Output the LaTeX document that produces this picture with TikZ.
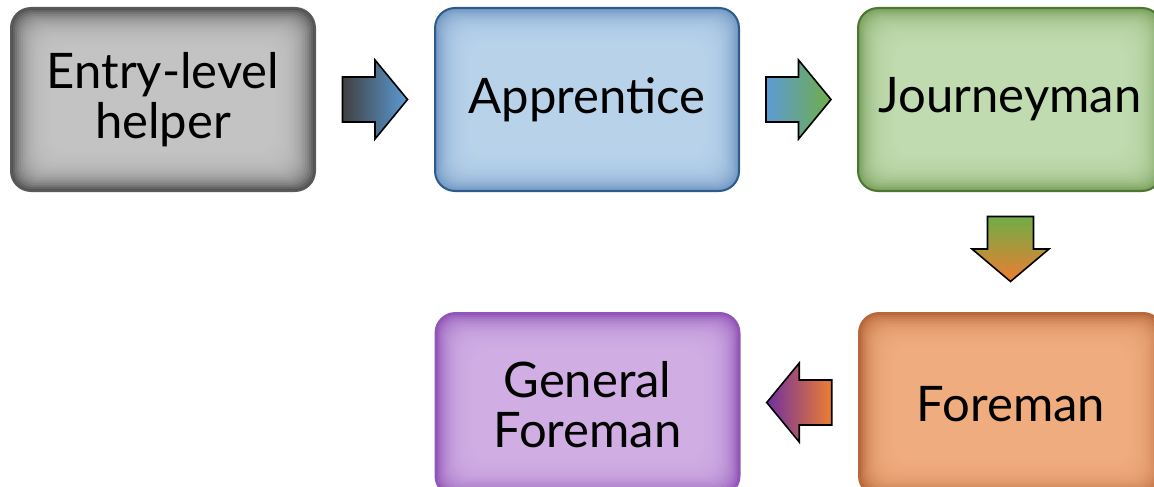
\documentclass[tikz,border=0pt]{standalone}
\usepackage{fontspec}
\setmainfont{Lato}
\usetikzlibrary{calc}

\definecolor{graymid}{HTML}{C8C8C8}
\definecolor{grayedge}{HTML}{505050}
\definecolor{grayline}{HTML}{5A5A5A}
\definecolor{bluemid}{HTML}{BDD7EE}
\definecolor{blueedge}{HTML}{6F96C2}
\definecolor{blueline}{HTML}{2E5C8A}
\definecolor{greenmid}{HTML}{C5E0B4}
\definecolor{greenedge}{HTML}{789E5A}
\definecolor{greenline}{HTML}{4E7632}
\definecolor{orangemid}{HTML}{F4B183}
\definecolor{orangeedge}{HTML}{B8683A}
\definecolor{purplemid}{HTML}{D5B3E8}
\definecolor{purpleedge}{HTML}{9256B8}
\definecolor{arrgray}{HTML}{404040}
\definecolor{arrblue}{HTML}{5B9BD5}
\definecolor{arrgreen}{HTML}{70AD47}
\definecolor{arrorange}{HTML}{ED7D31}
\definecolor{arrpurple}{HTML}{7030A0}

\newcommand{\stagefont}{\fontsize{49}{50}\selectfont}

\tikzset{
  stagebox/.style n args={3}{rounded corners=20pt, minimum width=304pt, minimum height=183pt,
    inner sep=0pt, align=center, font=\stagefont, fill=#2, draw=#3, line width=2pt,
    path picture={
      \foreach \k in {1,...,20}
        \fill[#1, fill opacity=0.17, rounded corners=18pt]
          ($(path picture bounding box.south west)+(\k*2pt,\k*2pt)$) rectangle
          ($(path picture bounding box.north east)-(\k*2pt,\k*2pt)$);
    }},
  blockarrow/.style={draw=black, line width=1.6pt, line join=miter}
}

\begin{document}
\begin{tikzpicture}[x=1pt, y=-1pt]
\useasboundingbox (0, 0) rectangle (1154, 487); % page size

% stages
\node[stagebox={graymid}{grayedge}{grayline}] (entry) at (163, 99.5) {Entry-level\\helper};
\node[stagebox={bluemid}{blueedge}{blueline}] (appr) at (587, 99.5) {Apprentice};
\node[stagebox={greenmid}{greenedge}{greenline}] (journey) at (1010, 99.5) {Journeyman};
\node[stagebox={orangemid}{orangeedge}{orangeedge}] (fore) at (1011, 404.5) {Foreman};
\node[stagebox={purplemid}{purpleedge}{purpleedge}] (general) at (587.5, 404.5) {General\\Foreman};

% arrows between stages
\coordinate (a1) at ($(entry.east)!0.5!(appr.west)$);
\coordinate (a2) at ($(appr.east)!0.5!(journey.west)$);
\coordinate (a3) at ($(journey.south)!0.5!(fore.north)+(0,-3)$);
\coordinate (a4) at ($(fore.west)!0.5!(general.east)+(0,-2)$);

\draw[blockarrow, left color=arrgray, right color=arrblue, shift={(a1)}]
  (-32.5,-22.5) -- (0,-22.5) -- (0,-39.5) -- (32.5,0) -- (0,39.5) -- (0,22.5) -- (-32.5,22.5) -- cycle;
\draw[blockarrow, left color=arrblue, right color=arrgreen, shift={(a2)}]
  (-32.5,-22.5) -- (0,-22.5) -- (0,-39.5) -- (32.5,0) -- (0,39.5) -- (0,22.5) -- (-32.5,22.5) -- cycle;
\draw[blockarrow, top color=arrgreen, bottom color=arrorange, shift={(a3)}]
  (-23,-32.5) -- (23,-32.5) -- (23,0) -- (38.5,0) -- (0,32.5) -- (-38.5,0) -- (-23,0) -- cycle;
\draw[blockarrow, left color=arrpurple, right color=arrorange, shift={(a4)}]
  (32.5,-22.5) -- (0,-22.5) -- (0,-39.5) -- (-32.5,0) -- (0,39.5) -- (0,22.5) -- (32.5,22.5) -- cycle;

\end{tikzpicture}
\end{document}
